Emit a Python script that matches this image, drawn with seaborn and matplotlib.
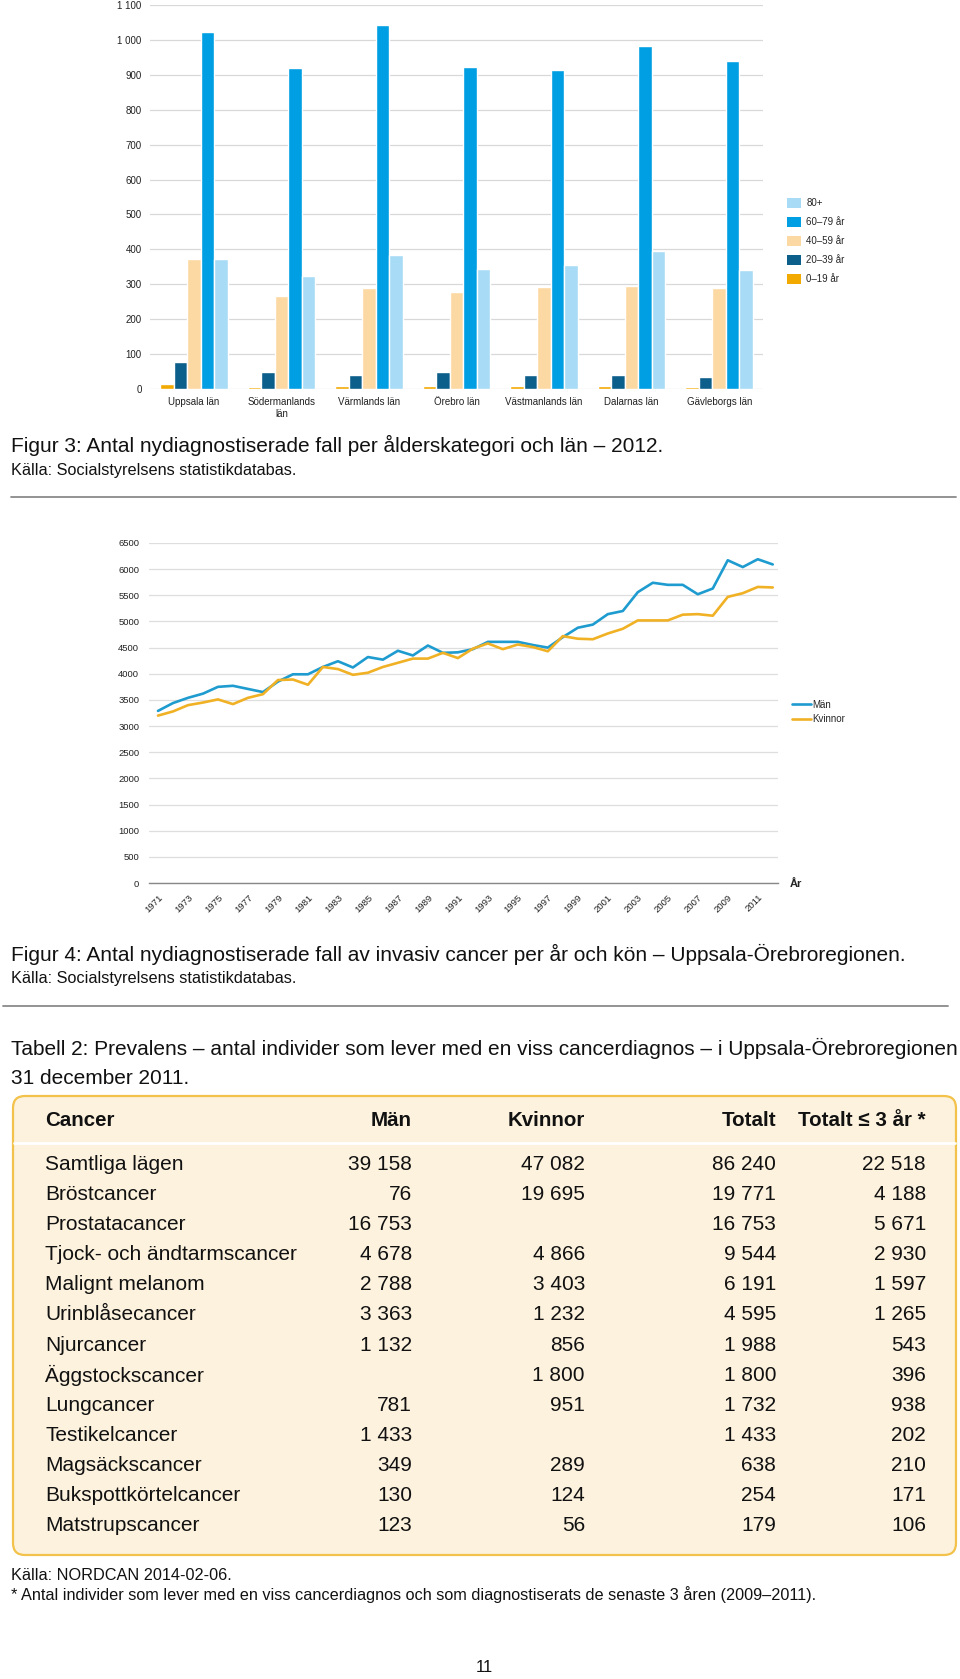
import matplotlib.pyplot as plt
import seaborn as sns
import pandas as pd
from matplotlib.patches import FancyBboxPatch, Patch
from matplotlib.lines import Line2D

# --- data: figure 3 (new cases per age group and county, 2012)
counties = ["Uppsala län", "Södermanlands\nlän", "Värmlands län", "Örebro län",
            "Västmanlands län", "Dalarnas län", "Gävleborgs län"]
age_groups = ["0–19 år", "20–39 år", "40–59 år", "60–79 år", "80+"]
age_0_19 = [14, 5, 10, 10, 10, 9, 7]
age_20_39 = [78, 48, 40, 50, 41, 41, 33]
age_40_59 = [372, 265, 290, 279, 293, 296, 289]
age_60_79 = [1024, 919, 1042, 921, 915, 983, 940]
age_80 = [371, 324, 383, 343, 355, 394, 341]
bar_colors = ["#f2a900", "#0c5e8b", "#fcd9a2", "#009fe3", "#a8dcf6"]

# --- data: figure 4 (new cases per year and sex)
years = list(range(1971, 2013))
man = [3290, 3440, 3540, 3620, 3750, 3770, 3710, 3650, 3850, 3990,
       3990, 4130, 4240, 4120, 4320, 4270, 4440, 4350, 4540, 4400,
       4410, 4470, 4610, 4610, 4610, 4550, 4500, 4700, 4880, 4940,
       5140, 5200, 5560, 5740, 5700, 5700, 5520, 5630, 6170, 6040,
       6190, 6090]
kvinnor = [3200, 3280, 3400, 3450, 3510, 3420, 3540, 3610, 3880, 3890,
           3790, 4130, 4090, 3980, 4020, 4130, 4210, 4290, 4290, 4400,
           4300, 4480, 4580, 4470, 4560, 4510, 4430, 4720, 4670, 4660,
           4770, 4860, 5020, 5020, 5020, 5130, 5140, 5110, 5470, 5540,
           5660, 5650]
sex_labels = ["Män", "Kvinnor"]
line_colors = ["#1e9bcf", "#f0b125"]

# --- data: table 2 (prevalence)
cancer_types = ["Samtliga lägen", "Bröstcancer", "Prostatacancer",
                "Tjock- och ändtarmscancer", "Malignt melanom", "Urinblåsecancer",
                "Njurcancer", "Äggstockscancer", "Lungcancer", "Testikelcancer",
                "Magsäckscancer", "Bukspottkörtelcancer", "Matstrupscancer"]
prev_man = [39158, 76, 16753, 4678, 2788, 3363, 1132, None, 781, 1433, 349, 130, 123]
prev_kvinnor = [47082, 19695, None, 4866, 3403, 1232, 856, 1800, 951, None, 289, 124, 56]
prev_totalt = [86240, 19771, 16753, 9544, 6191, 4595, 1988, 1800, 1732, 1433, 638, 254, 179]
prev_3ar = [22518, 4188, 5671, 2930, 1597, 1265, 543, 396, 938, 202, 210, 171, 106]
table_header = ["Cancer", "Män", "Kvinnor", "Totalt", "Totalt ≤ 3 år *"]

sns.set_theme(style="white")
plt.rcParams["font.family"] = ["Liberation Sans", "DejaVu Sans"]

W, H = 960, 1679
fig = plt.figure(figsize=(W / 100, H / 100), dpi=100)
fig.patch.set_facecolor("white")


def px_axes(left, top, right, bottom):
    return fig.add_axes([left / W, 1 - bottom / H, (right - left) / W, (bottom - top) / H])


def fmt(v):
    return "" if v is None else f"{v:,}".replace(",", " ")


# page layer in pixel coordinates
page = fig.add_axes([0, 0, 1, 1])
page.set_xlim(0, W)
page.set_ylim(H, 0)
page.axis("off")
page.patch.set_alpha(0)

# ---------------- figure 3: bar chart
bars = pd.DataFrame({"county": counties, age_groups[0]: age_0_19,
                     age_groups[1]: age_20_39, age_groups[2]: age_40_59,
                     age_groups[3]: age_60_79, age_groups[4]: age_80})
bars = bars.melt(id_vars="county", var_name="age", value_name="n")

ax1 = px_axes(150, 5, 763, 389)
sns.barplot(data=bars, x="county", y="n", hue="age", hue_order=age_groups,
            palette=bar_colors, saturation=1, width=0.77, gap=0,
            legend=False, ax=ax1)
ax1.set_ylim(0, 1100)
ax1.set_yticks(range(0, 1101, 100))
ax1.set_yticklabels([fmt(v) for v in range(0, 1101, 100)])
ax1.set_xlabel("")
ax1.set_ylabel("")
ax1.tick_params(axis="both", length=0, labelsize=7, colors="#222222")
ax1.tick_params(axis="y", pad=6)
ax1.tick_params(axis="x", pad=6)
sns.despine(ax=ax1, left=True, bottom=True)
ax1.yaxis.grid(True, color="#d8d8d8", lw=0.9)
ax1.set_axisbelow(True)

handles = [Patch(facecolor=c, edgecolor="none") for c in bar_colors][::-1]
fig.legend(handles, age_groups[::-1], loc="center left",
           bbox_to_anchor=(787 / W, 1 - 241 / H), frameon=False, fontsize=7,
           handlelength=1.45, handleheight=1.35, labelspacing=0.83,
           handletextpad=0.55, borderpad=0, borderaxespad=0)

page.text(11, 445, "Figur 3: Antal nydiagnostiserade fall per ålderskategori och län – 2012.",
          fontsize=15, va="center", ha="left", color="#111111")
page.text(11, 471, "Källa: Socialstyrelsens statistikdatabas.",
          fontsize=11.7, va="center", ha="left", color="#111111")
page.plot([11, 956], [497, 497], color="#8a8a8a", lw=1.3)

# ---------------- figure 4: line chart
lines = pd.DataFrame({"year": years * 2, "n": man + kvinnor,
                      "sex": [sex_labels[0]] * len(years) + [sex_labels[1]] * len(years)})

ax2 = px_axes(149, 543, 778, 883)
sns.lineplot(data=lines, x="year", y="n", hue="sex", hue_order=sex_labels,
             palette=line_colors, linewidth=1.9, legend=False, ax=ax2)
ax2.set_xlim(1970.4, 2012.35)
ax2.set_ylim(0, 6500)
ax2.set_yticks(range(0, 6501, 500))
ax2.set_xticks(years)
ax2.set_xticklabels([str(y) if y % 2 == 1 and y < 2012 else "" for y in years],
                    rotation=45, ha="right", rotation_mode="anchor")
ax2.set_xlabel("")
ax2.set_ylabel("")
ax2.tick_params(axis="y", length=0, labelsize=6.8, pad=7, colors="#222222")
ax2.tick_params(axis="x", direction="out", length=3, width=0.8, color="#888888",
                labelsize=6.8, labelcolor="#222222", pad=4)
sns.despine(ax=ax2, left=True)
ax2.spines["bottom"].set_color("#888888")
ax2.spines["bottom"].set_linewidth(1.0)
ax2.yaxis.grid(True, color="#dedede", lw=0.9)
ax2.set_axisbelow(True)

line_handles = [Line2D([], [], color=c, lw=1.9) for c in line_colors]
fig.legend(line_handles, sex_labels, loc="center left",
           bbox_to_anchor=(792 / W, 1 - 712 / H), frameon=False, fontsize=7,
           handlelength=2.0, labelspacing=0.45, handletextpad=0.1,
           borderpad=0, borderaxespad=0)
page.text(790, 884, "År", fontsize=8, fontweight="bold", va="center", ha="left",
          color="#222222")

page.text(11, 954, "Figur 4: Antal nydiagnostiserade fall av invasiv cancer per år och kön – Uppsala-Örebroregionen.",
          fontsize=15, va="center", ha="left", color="#111111")
page.text(11, 978, "Källa: Socialstyrelsens statistikdatabas.",
          fontsize=11.7, va="center", ha="left", color="#111111")
page.plot([3, 948], [1006, 1006], color="#8a8a8a", lw=1.3)

# ---------------- table 2
page.text(11, 1048, "Tabell 2: Prevalens – antal individer som lever med en viss cancerdiagnos – i Uppsala-Örebroregionen",
          fontsize=15, va="center", ha="left", color="#111111")
page.text(11, 1078, "31 december 2011.", fontsize=15, va="center", ha="left",
          color="#111111")

r = 12
box = FancyBboxPatch((13 + r, 1096 + r), 943 - 2 * r, 459 - 2 * r,
                     boxstyle=f"round,pad={r}", facecolor="#fdf2de",
                     edgecolor="#f3c24a", lw=1.6)
page.add_patch(box)
page.plot([14, 955], [1143, 1143], color="white", lw=2)

col_x = [45, 412, 585, 776, 926]
col_ha = ["left", "right", "right", "right", "right"]
for x, ha, label in zip(col_x, col_ha, table_header):
    page.text(x, 1121, label, fontsize=14.8, fontweight="bold", ha=ha, va="center",
              color="#111111")

for i, name in enumerate(cancer_types):
    y = 1164.5 + i * 30.1
    row = [name, fmt(prev_man[i]), fmt(prev_kvinnor[i]), fmt(prev_totalt[i]), fmt(prev_3ar[i])]
    for x, ha, cell in zip(col_x, col_ha, row):
        page.text(x, y, cell, fontsize=15, ha=ha, va="center", color="#111111")

page.text(11, 1575, "Källa: NORDCAN 2014-02-06.", fontsize=11.7, va="center", ha="left",
          color="#111111")
page.text(11, 1595, "* Antal individer som lever med en viss cancerdiagnos och som diagnostiserats de senaste 3 åren (2009–2011).",
          fontsize=11.7, va="center", ha="left", color="#111111")
page.text(484, 1668, "11", fontsize=12, va="center", ha="center", color="#111111")

fig.savefig("out.png", dpi=100)
